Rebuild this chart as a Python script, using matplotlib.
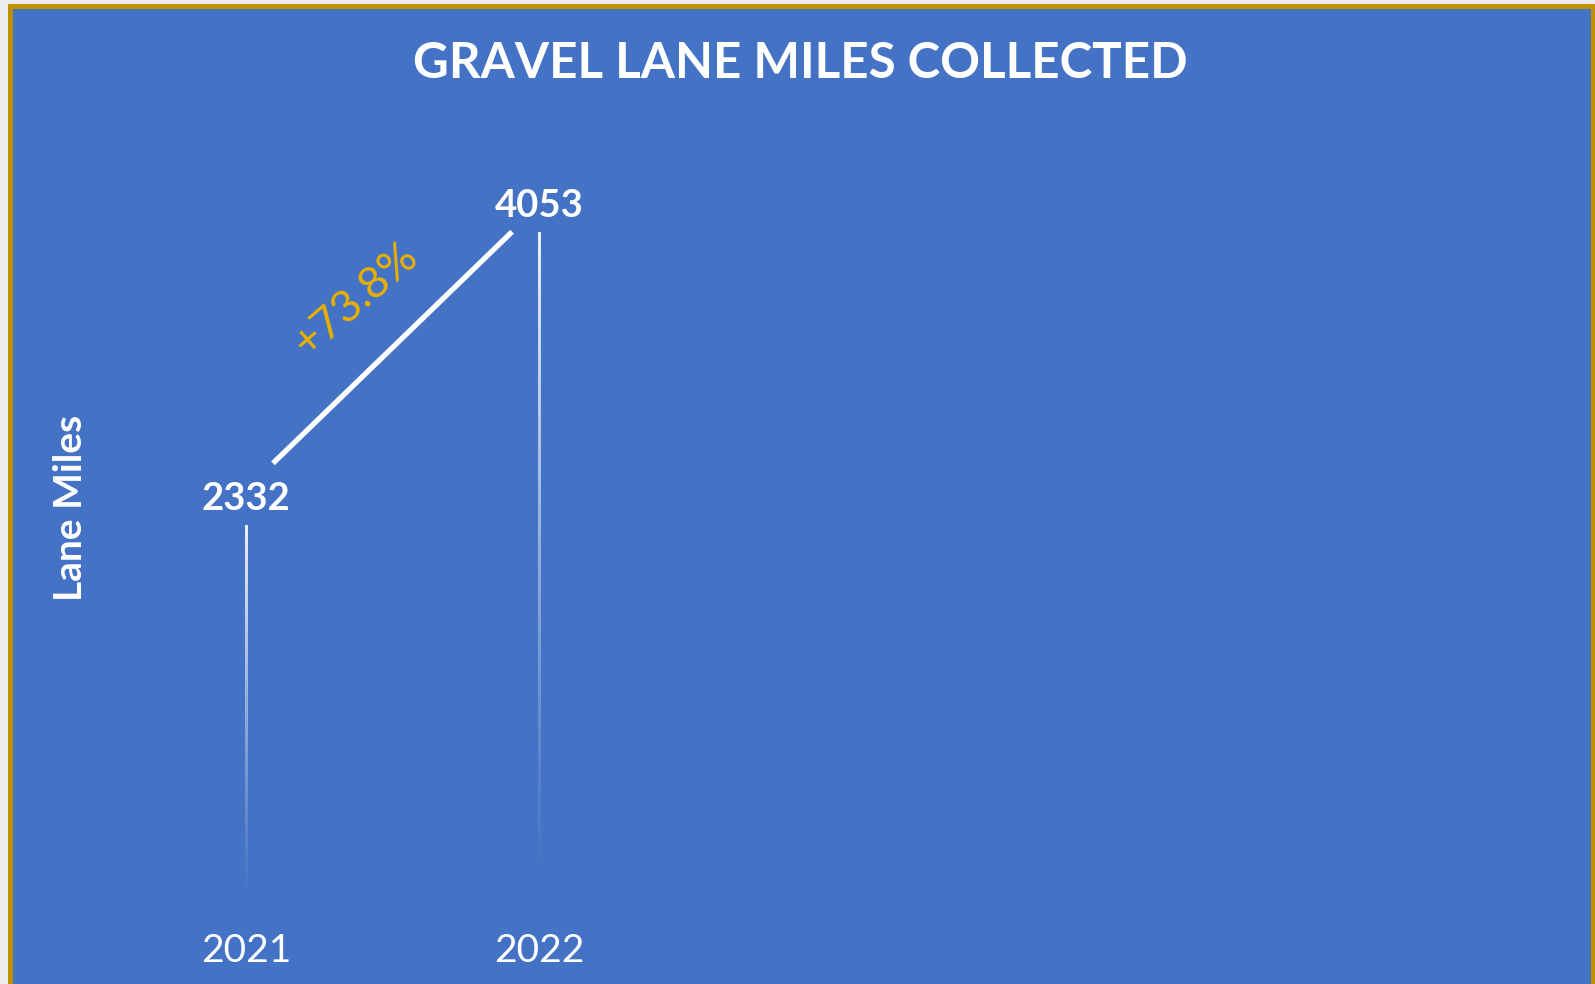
import matplotlib
matplotlib.use("Agg")
import matplotlib.pyplot as plt
from matplotlib.patches import Rectangle
import numpy as np

# dati
years = ["2021", "2022"]
lane_miles = [2332, 4053]

blue = "#4472C4"
gold_border = "#BF9000"
gold_text = "#E8B000"

fig = plt.figure(figsize=(15.95, 9.84), dpi=100)
fig.patch.set_facecolor("#ececec")
W, H = 1595, 984

# bordo oro + sfondo blu
fig.patches.append(Rectangle((8 / W, 0), 1, 1 - 4 / H, transform=fig.transFigure,
                             facecolor=gold_border, edgecolor="none", zorder=0))
fig.patches.append(Rectangle((13 / W, 0), (1591 - 13) / W, 1 - 9 / H, transform=fig.transFigure,
                             facecolor=blue, edgecolor="none", zorder=0))

# area del grafico: baseline a 922 px dall'alto, 293 px tra le categorie
left_px, right_px, top_px, base_px = 110, 1560, 130, 922
ax = fig.add_axes([left_px / W, (H - base_px) / H, (right_px - left_px) / W, (base_px - top_px) / H])
ax.set_zorder(5)
ax.set_facecolor("none")
x = np.arange(len(years))
ax.set_xlim((left_px - 246) / 293, (right_px - 246) / 293)
ax.set_ylim(0, (base_px - top_px) / 0.1703)
for s in ax.spines.values():
    s.set_visible(False)
ax.set_yticks([])
ax.set_xticks(x)
ax.set_xticklabels(years, fontsize=28, color="white", family="Lato")
ax.tick_params(axis="x", length=0, pad=8)

# barre sottili con sfumatura bianca
bw = 0.007
bars = ax.bar(x, lane_miles, width=bw, color="none", edgecolor="none")
grad = np.linspace(0, 1, 256).reshape(-1, 1)
rgba = np.zeros((256, 1, 4))
rgba[..., :3] = 1.0
rgba[..., 3] = 0.9 * np.clip((grad - 0.06) / 0.94, 0, 1) ** 1.1
for b, xi, v in zip(bars, x, lane_miles):
    im = ax.imshow(rgba, extent=[xi - bw / 2, xi + bw / 2, 0, v], origin="lower",
                   aspect="auto", zorder=2)
    im.set_clip_path(b)
    ax.annotate(str(v), (xi, v), xytext=(0, 18.5), textcoords="offset points",
                ha="center", va="center", fontsize=27.5, fontweight="bold",
                color="white", family="Lato")

# linea di crescita + percentuale
v0, v1 = lane_miles
ax.plot([x[0] + 0.092, x[1] - 0.092], [v0 + 0.21 * (v1 - v0), v1],
        color="white", lw=3.8, solid_capstyle="butt", zorder=3)
pct = (v1 - v0) / v0 * 100
ax.text(x[0] + 0.375, v0 + 0.77 * (v1 - v0), f"+{pct:.1f}%", rotation=41,
        rotation_mode="anchor", ha="center", va="center", fontsize=32,
        color=gold_text, family="Lato")

fig.text(800 / W, 1 - 64 / H, "GRAVEL LANE MILES COLLECTED", ha="center", va="center",
         fontsize=35.5, fontweight="bold", color="white", family="Lato")
fig.text(71 / W, 1 - 508 / H, "Lane Miles", rotation=90, ha="center", va="center",
         fontsize=28, fontweight="bold", color="white", family="Lato")

fig.savefig("out.png", dpi=100, facecolor=fig.get_facecolor())
